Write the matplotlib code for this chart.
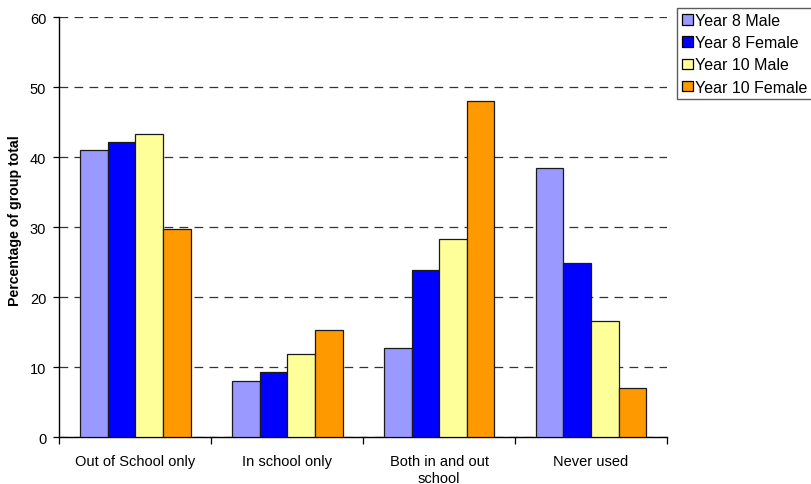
import numpy as np
import matplotlib
matplotlib.use("Agg")
import matplotlib.pyplot as plt
from matplotlib.patches import Patch

plt.rcParams['font.family'] = ['Liberation Sans', 'DejaVu Sans']

categories = ["Out of School only", "In school only", "Both in and out\nschool", "Never used"]
series_names = ["Year 8 Male", "Year 8 Female", "Year 10 Male", "Year 10 Female"]
year8_male = [41.0, 8.0, 12.8, 38.5]
year8_female = [42.2, 9.3, 23.9, 24.9]
year10_male = [43.3, 11.9, 28.4, 16.6]
year10_female = [29.7, 15.3, 48.0, 7.1]
y_ticks = [0, 10, 20, 30, 40, 50, 60]

series = [year8_male, year8_female, year10_male, year10_female]
colors = ["#9999FF", "#0000FF", "#FFFF99", "#FF9900"]

W, H = 812, 485
fig = plt.figure(figsize=(W / 100, H / 100), dpi=100)
ax = fig.add_axes([59.5 / W, (H - 438.3) / H, (667 - 59.5) / W, (438.3 - 18.3) / H])

n = len(series)
bar_w = 1.0 / (n + 1.5)
x = np.arange(len(categories))
for i, (vals, col, name) in enumerate(zip(series, colors, series_names)):
    offs = (i - (n - 1) / 2) * bar_w
    ax.bar(x + offs, vals, width=bar_w, color=col, edgecolor="#1a1a1a",
           linewidth=0.9, label=name, zorder=3)

ax.set_xlim(-0.5, len(categories) - 0.5)
ax.set_ylim(0, 60)
ax.set_yticks(y_ticks)
ax.set_yticklabels([str(t) for t in y_ticks], fontsize=10.5)
ax.yaxis.grid(True, linestyle=(0, (7, 5)), color="#333333", linewidth=0.9, zorder=0)
ax.set_axisbelow(True)

# category boundary ticks on x, labels centred under each group
ax.set_xticks(np.arange(len(categories) + 1) - 0.5)
ax.set_xticklabels([])
ax.set_xticks(x, minor=True)
ax.set_xticklabels(categories, minor=True, fontsize=10.5, linespacing=1.3)
ax.tick_params(axis='x', which='minor', length=0, pad=12)
ax.tick_params(axis='x', which='major', length=5, direction='out', width=0.9)
ax.tick_params(axis='y', length=4.5, direction='out', width=0.9, pad=5)

for s in ["top", "right"]:
    ax.spines[s].set_visible(False)
for s in ["left", "bottom"]:
    ax.spines[s].set_linewidth(1.0)
    ax.spines[s].set_color("black")

fig.text(15.5 / W, 1 - 220.5 / H, "Percentage of group total", rotation=90,
         ha="center", va="center", fontsize=10.2, fontweight="bold")

handles = [Patch(facecolor=c, edgecolor="black", linewidth=0.9, label=nm)
           for c, nm in zip(colors, series_names)]
leg = fig.legend(handles=handles, loc="upper left",
                 bbox_to_anchor=(677.5 / W, 1 - 9.3 / H),
                 fontsize=11.5, frameon=True, fancybox=False, borderpad=0.3,
                 labelspacing=0.45, handlelength=0.65, handleheight=0.65,
                 handletextpad=0.15, borderaxespad=0)
leg.get_frame().set_edgecolor("#333333")
leg.get_frame().set_linewidth(1.0)

fig.savefig("out.png", dpi=100)
